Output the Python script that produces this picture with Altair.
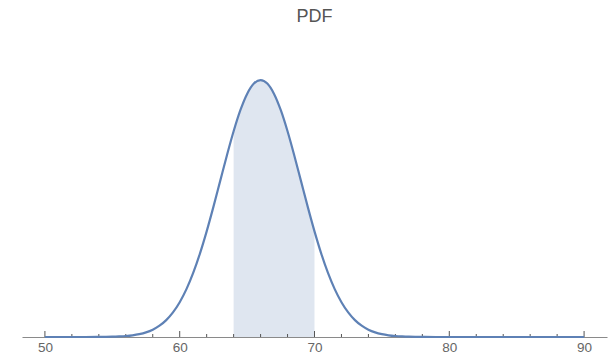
import altair as alt
import pandas as pd

# curve values
x_vals = [50, 51, 52, 53, 54, 54.5, 55, 55.5, 56, 56.5, 57, 57.5, 58, 58.5, 59, 59.5,
          60, 60.5, 61, 61.5, 62, 62.5, 63, 63.5, 64, 64.5, 65, 65.5, 66, 66.5, 67,
          67.5, 68, 68.5, 69, 69.5, 70, 70.5, 71, 71.5, 72, 72.5, 73, 73.5, 74, 74.5,
          75, 75.5, 76, 76.5, 77, 77.5, 78, 79, 80, 81, 82, 83, 84, 85, 86, 87, 88, 89, 90]
y_vals = [0.0, 0.0, 0.0, 0.0, 0.00005, 0.00009, 0.00016, 0.0003, 0.00051, 0.00088,
          0.00148, 0.0024, 0.0038, 0.00584, 0.00874, 0.01272, 0.018, 0.02477, 0.03316,
          0.04317, 0.05467, 0.06733, 0.08066, 0.09397, 0.10648, 0.11736, 0.12579,
          0.13115, 0.13298, 0.13115, 0.12579, 0.11736, 0.10648, 0.09397, 0.08066,
          0.06733, 0.05467, 0.04317, 0.03316, 0.02477, 0.018, 0.01272, 0.00874,
          0.00584, 0.0038, 0.0024, 0.00148, 0.00088, 0.00051, 0.0003, 0.00016,
          0.00009, 0.00005, 0.0, 0.0, 0.0, 0.0, 0.0, 0.0, 0.0, 0.0, 0.0, 0.0, 0.0, 0.0]
shade_from = 64
shade_to = 70
major_ticks = [50, 60, 70, 80, 90]
minor_ticks = [52, 54, 56, 58, 62, 64, 66, 68, 72, 74, 76, 78, 82, 84, 86, 88]

W, H = 585, 297
LINE = "#5E81B5"

df = pd.DataFrame({"x": x_vals, "y": y_vals})
shade = df[(df.x >= shade_from) & (df.x <= shade_to)]

xscale = alt.Scale(domain=[48.3, 91.7], nice=False, zero=False)
yscale = alt.Scale(domain=[0, 0.1537], nice=False)

area = alt.Chart(shade).mark_area(color=LINE, opacity=0.2, interpolate="monotone").encode(
    x=alt.X("x:Q", scale=xscale,
            axis=alt.Axis(title=None, values=major_ticks, ticks=False, grid=False,
                          domainColor="#8a8a8a", domainWidth=1.2, labelColor="#666666",
                          labelFont="Liberation Sans", labelFontSize=13.5, labelPadding=3,
                          format="d")),
    y=alt.Y("y:Q", scale=yscale, axis=None),
)

line = alt.Chart(df).mark_line(color=LINE, strokeWidth=2.2, interpolate="monotone").encode(
    x=alt.X("x:Q", scale=xscale),
    y=alt.Y("y:Q", scale=yscale),
)

major = alt.Chart(pd.DataFrame({"t": major_ticks})).mark_rule(color="#555555", strokeWidth=1).encode(
    x=alt.X("t:Q", scale=xscale),
    y=alt.value(H),
    y2=alt.value(H - 6),
)
minor = alt.Chart(pd.DataFrame({"t": minor_ticks})).mark_rule(color="#555555", strokeWidth=1).encode(
    x=alt.X("t:Q", scale=xscale),
    y=alt.value(H),
    y2=alt.value(H - 3),
)

chart = alt.layer(area, major, minor, line).properties(
    width=W, height=H,
    background="white",
    title=alt.TitleParams("PDF", fontSize=18, font="Liberation Sans", fontWeight="normal",
                          color="#555555", offset=14, anchor="middle"),
    padding={"left": 22, "top": 40, "right": 9, "bottom": 24},
    autosize=alt.AutoSizeParams(type="none"),
).configure_view(strokeWidth=0, stroke="transparent")

chart.save("out.html", embed_options={"renderer": "svg", "actions": False})
